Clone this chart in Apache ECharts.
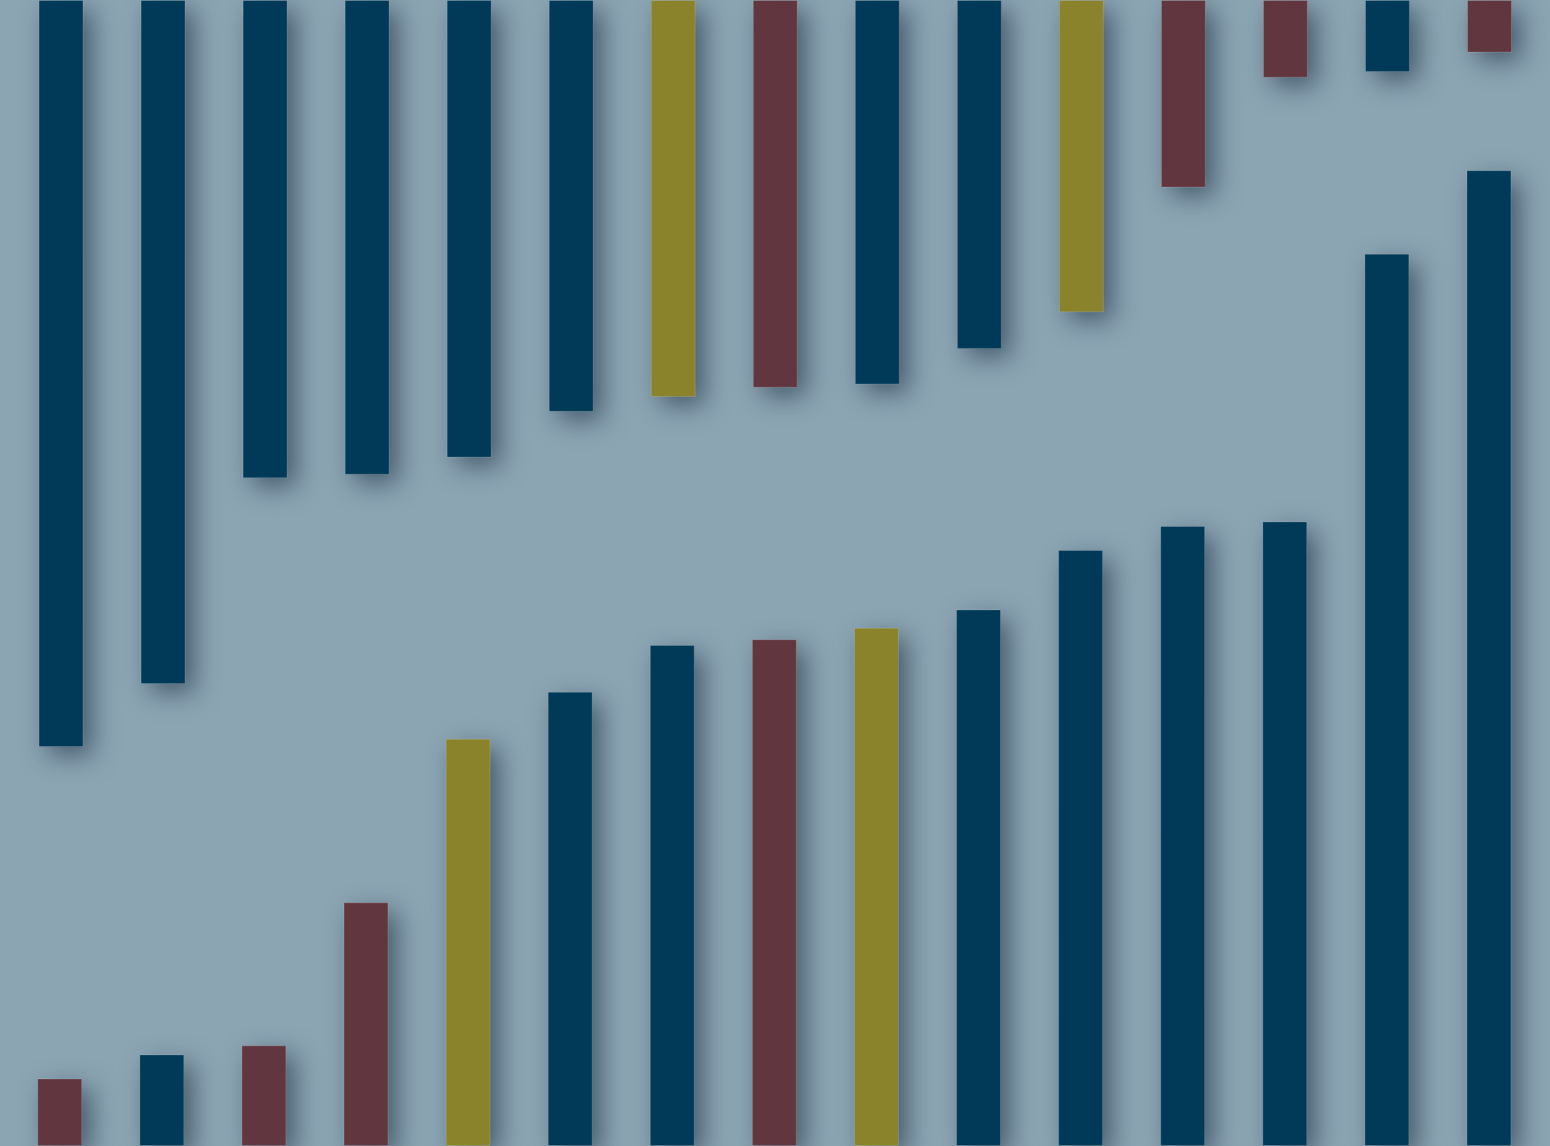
<!DOCTYPE html>
<html><head><meta charset="utf-8">
<style>html,body{margin:0;padding:0;background:#8ca5b3;}#c{width:1550px;height:1146px;}</style>
<script src="https://cdn.jsdelivr.net/npm/echarts@6/dist/echarts.min.js"></script>
</head><body><div id="c"></div>
<script>
var categories = ['1','2','3','4','5','6','7','8','9','10','11','12','13','14','15'];
var topValues = [65.3, 59.8, 41.8, 41.5, 40.0, 36.0, 34.7, 33.9, 33.6, 30.5, 27.3, 16.4, 6.8, 6.3, 4.6];
var topGroups = ['n','n','n','n','n','n','o','m','n','n','o','m','m','n','m'];
var bottomValues = [5.9, 8.0, 8.8, 21.3, 35.6, 39.7, 43.8, 44.3, 45.3, 46.9, 52.1, 54.2, 54.6, 78.0, 85.3];
var bottomGroups = ['m','n','m','m','o','n','n','m','o','n','n','n','n','n','n'];
var palette = {n:'#013a59', m:'#62363f', o:'#8b832b'};

function build(vals, groups){
  return vals.map(function(v,i){return {value:v, itemStyle:{color:palette[groups[i]]}};});
}
var common = {
  type:'bar', barWidth:'44%', silent:true,
  itemStyle:{borderColor:'rgba(255,255,255,0.15)', borderWidth:1,
    shadowBlur:26, shadowOffsetX:9, shadowOffsetY:9, shadowColor:'rgba(20,40,60,0.6)'}
};
var chart = echarts.init(document.getElementById('c'));
chart.setOption({
  backgroundColor:'#8ca5b3',
  animation:false,
  grid:[{left:10, right:9.5, top:-2, bottom:2},{left:8.7, right:10, top:2, bottom:-2}],
  xAxis:[
    {type:'category', data:categories, gridIndex:0, show:false},
    {type:'category', data:categories, gridIndex:1, show:false}
  ],
  yAxis:[
    {type:'value', min:0, max:100, inverse:true, gridIndex:0, show:false},
    {type:'value', min:0, max:100, gridIndex:1, show:false}
  ],
  series:[
    Object.assign({}, common, {xAxisIndex:0, yAxisIndex:0, data:build(topValues, topGroups)}),
    Object.assign({}, common, {xAxisIndex:1, yAxisIndex:1, data:build(bottomValues, bottomGroups)})
  ]
});
</script></body></html>
